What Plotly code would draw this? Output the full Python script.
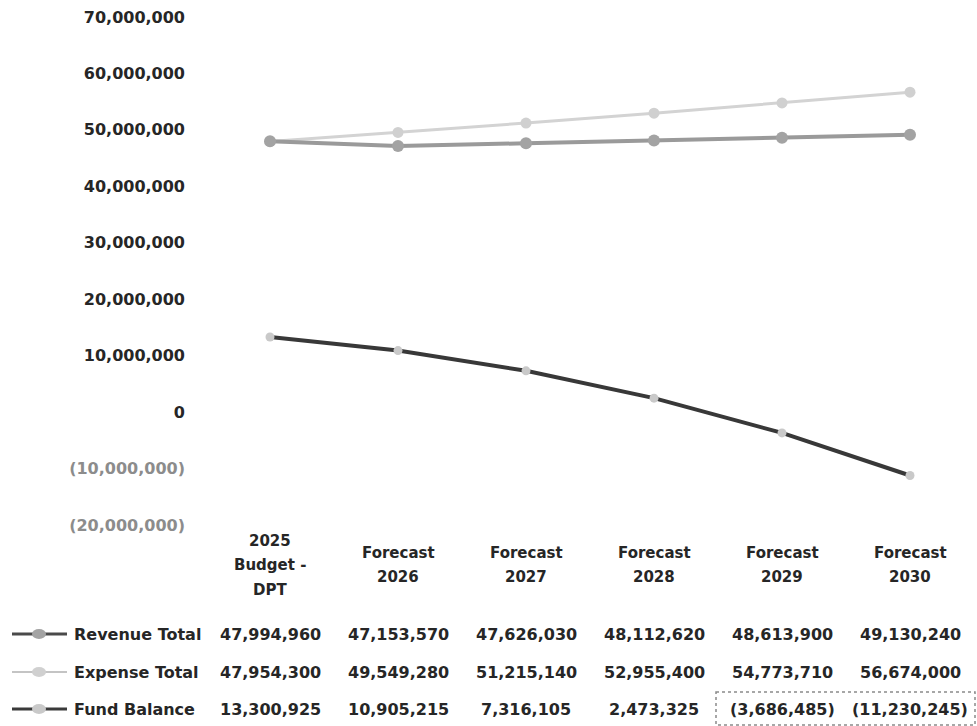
import plotly.graph_objects as go

# ---- data -------------------------------------------------------------
categories = ["2025 Budget - DPT", "Forecast 2026", "Forecast 2027",
              "Forecast 2028", "Forecast 2029", "Forecast 2030"]
category_lines = [["2025", "Budget -", "DPT"], ["Forecast", "2026"], ["Forecast", "2027"],
                  ["Forecast", "2028"], ["Forecast", "2029"], ["Forecast", "2030"]]
revenue_total = [47994960, 47153570, 47626030, 48112620, 48613900, 49130240]
expense_total = [47954300, 49549280, 51215140, 52955400, 54773710, 56674000]
fund_balance = [13300925, 10905215, 7316105, 2473325, -3686485, -11230245]
series_names = ["Revenue Total", "Expense Total", "Fund Balance"]
y_ticks = [70e6, 60e6, 50e6, 40e6, 30e6, 20e6, 10e6, 0, -10e6, -20e6]

# ---- page geometry (pixels) -----------------------------------------
W, H = 977, 726
ML, MR, MT, MB = 206, 3, 17, 201
PW, PH = W - ML - MR, H - MT - MB

def px_x(X):
    return (X - ML) / PW

def px_y(Y):
    return (H - MB - Y) / PH

FONT = "DejaVu Sans"
TXT = "#262626"

def fmt(v):
    return f"({abs(v):,.0f})" if v < 0 else f"{v:,.0f}"

styles = {
    "Revenue Total": dict(line="#9a9a9a", width=4, marker="#a3a3a3", msize=12, key="#4a4a4a"),
    "Expense Total": dict(line="#d3d3d3", width=3, marker="#d0d0d0", msize=11, key="#c4c4c4"),
    "Fund Balance": dict(line="#383838", width=4, marker="#c9c9c9", msize=9, key="#3a3a3a"),
}
values = {"Revenue Total": revenue_total, "Expense Total": expense_total,
          "Fund Balance": fund_balance}

x_idx = list(range(len(categories)))

fig = go.Figure()
for name in ["Expense Total", "Revenue Total", "Fund Balance"]:
    s = styles[name]
    fig.add_trace(go.Scatter(
        x=x_idx, y=values[name], name=name, mode="lines+markers",
        line=dict(color=s["line"], width=s["width"]),
        marker=dict(symbol="circle", size=s["msize"], color=s["marker"]),
        showlegend=False, hoverinfo="skip",
    ))

# y tick labels: negatives in parentheses and greyed
tick_text = []
for v in y_ticks:
    if v < 0:
        tick_text.append(f'<span style="color:#8c8c8c">{fmt(v)}</span>')
    else:
        tick_text.append(fmt(v))

annotations = []
shapes = []

# category labels under the plot
line_step = 24.5
for i, lines in enumerate(category_lines):
    n = len(lines)
    center = 565
    for k, t in enumerate(lines):
        Y = center + (k - (n - 1) / 2) * line_step
        annotations.append(dict(
            x=i, xref="x", y=px_y(Y), yref="paper", text=t, showarrow=False,
            xanchor="center", yanchor="middle",
            font=dict(family=FONT, size=15, color=TXT, weight="bold"),
        ))

# data table rows with legend keys
row_y = [634, 672, 709]
for r, name in enumerate(series_names):
    Y = row_y[r]
    s = styles[name]
    shapes.append(dict(type="line", xref="paper", yref="paper",
                       x0=px_x(12), x1=px_x(67), y0=px_y(Y), y1=px_y(Y),
                       line=dict(color=s["key"], width=3 if r != 1 else 2)))
    shapes.append(dict(type="circle", xref="paper", yref="paper",
                       xsizemode="pixel", ysizemode="pixel",
                       xanchor=px_x(39), yanchor=px_y(Y),
                       x0=-7, x1=7, y0=-5, y1=5,
                       fillcolor=s["marker"], line=dict(width=0)))
    annotations.append(dict(
        x=px_x(72), xref="paper", y=px_y(Y), yref="paper", text=name,
        showarrow=False, xanchor="left", yanchor="middle",
        font=dict(family=FONT, size=16, color=TXT, weight="bold"),
    ))
    for i, v in enumerate(values[name]):
        annotations.append(dict(
            x=i, xref="x", y=px_y(Y), yref="paper", text=fmt(v),
            showarrow=False, xanchor="center", yanchor="middle",
            font=dict(family=FONT, size=16, color=TXT, weight="bold"),
        ))

# outline around the negative fund balance forecasts
shapes.append(dict(type="rect", xref="paper", yref="paper",
                   x0=px_x(716), x1=px_x(975), y0=px_y(692), y1=px_y(725),
                   line=dict(color="#8a8a8a", width=1.5, dash="dot")))

fig.update_layout(
    width=W, height=H,
    margin=dict(l=ML, r=MR, t=MT, b=MB),
    paper_bgcolor="white", plot_bgcolor="white",
    font=dict(family=FONT, size=16, color=TXT),
    xaxis=dict(range=[-0.5, len(categories) - 0.5], showticklabels=False,
               showgrid=False, zeroline=False, showline=False, ticks=""),
    yaxis=dict(range=[-20e6, 70e6], tickvals=y_ticks, ticktext=tick_text,
               showgrid=False, zeroline=False, showline=False, ticks="",
               ticklabelstandoff=20,
               tickfont=dict(family=FONT, size=16, color=TXT, weight="bold")),
    annotations=annotations,
    shapes=shapes,
)

fig.write_html("out.html")
